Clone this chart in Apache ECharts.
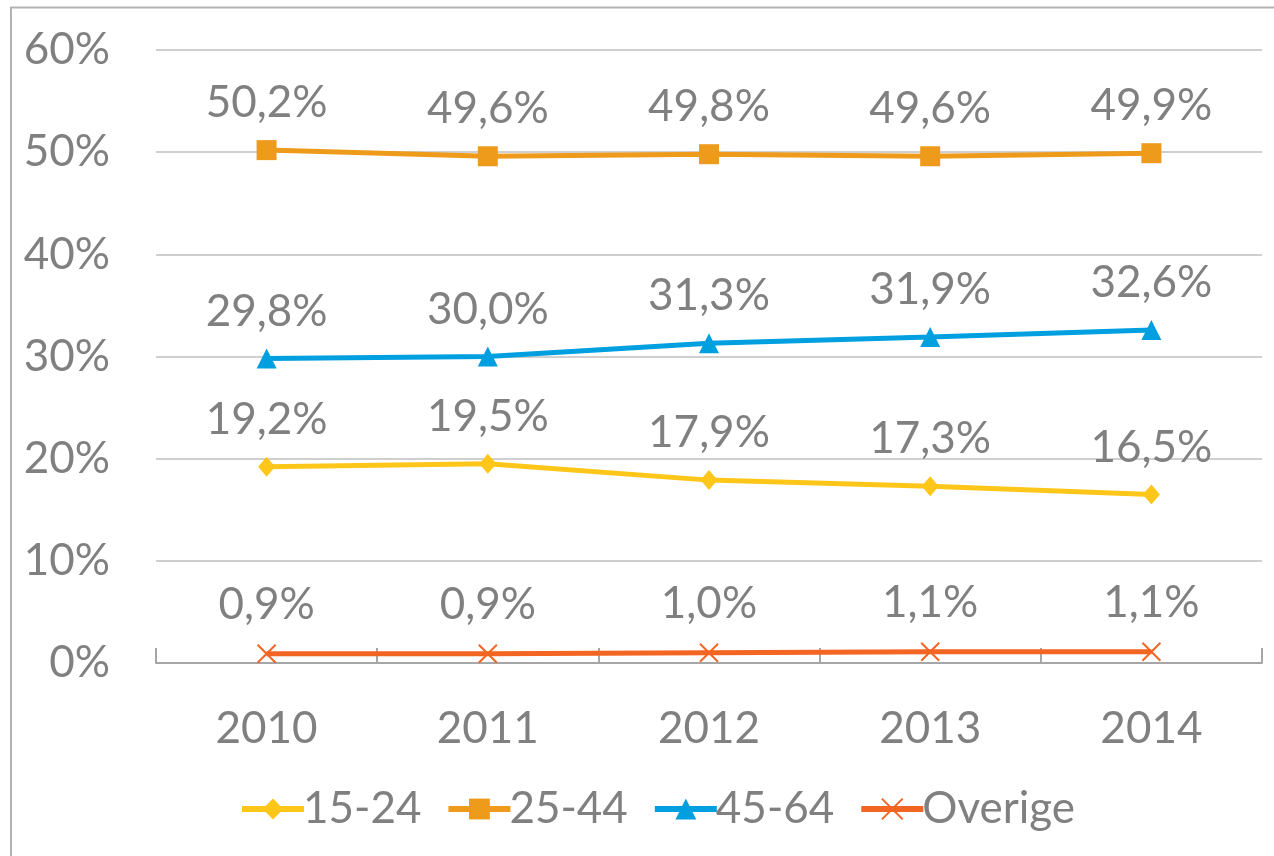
<!DOCTYPE html>
<html>
<head>
<meta charset="utf-8">
<script src="https://cdn.jsdelivr.net/npm/echarts@6/dist/echarts.min.js"></script>
<style>
html,body{margin:0;padding:0;background:#fff;}
#chart{width:1274px;height:856px;}
</style>
</head>
<body>
<div id="chart"></div>
<script>
const years = ['2010','2011','2012','2013','2014'];
const s1524 = [19.2, 19.5, 17.9, 17.3, 16.5];
const s2544 = [50.2, 49.6, 49.8, 49.6, 49.9];
const s4564 = [29.8, 30.0, 31.3, 31.9, 32.6];
const sOverige = [0.9, 0.9, 1.0, 1.1, 1.1];
const seriesNames = ['15-24', '25-44', '45-64', 'Overige'];
const colors = ['#FFC61A', '#EE9B1B', '#009FDF', '#F26522'];

const FONT = 'Lato, "Open Sans", sans-serif';
const GRAY = '#808080';

const fmt = v => v.toFixed(1).replace('.', ',') + '%';

function mk(name, data, color, symbol, size, extra) {
  return Object.assign({
    name: name,
    type: 'line',
    data: data,
    symbol: symbol,
    symbolSize: size,
    showAllSymbol: true,
    lineStyle: {color: color, width: 5},
    itemStyle: {color: color},
    label: {
      show: true,
      position: 'top',
      distance: 15,
      color: GRAY,
      fontFamily: FONT,
      fontSize: 44,
      formatter: p => fmt(p.value)
    },
    emphasis: {disabled: true},
    animation: false
  }, extra || {});
}

const chart = echarts.init(document.getElementById('chart'));
chart.setOption({
  animation: false,
  color: colors,
  graphic: [{
    type: 'rect',
    shape: {x: 11, y: 7.5, width: 1300, height: 900},
    style: {fill: 'none', stroke: '#b3b3b3', lineWidth: 2},
    silent: true
  }],
  grid: {left: 156, right: 12, top: 50, bottom: 193, containLabel: false},
  xAxis: {
    type: 'category',
    data: years,
    boundaryGap: true,
    axisLine: {show: true, lineStyle: {color: '#a6a6a6', width: 2}},
    axisTick: {show: true, inside: true, length: 15, lineStyle: {color: '#a6a6a6', width: 2}},
    axisLabel: {color: GRAY, fontFamily: FONT, fontSize: 44, margin: 44},
    splitLine: {show: false}
  },
  yAxis: {
    type: 'value',
    min: 0, max: 60, interval: 10,
    axisLine: {show: false},
    axisTick: {show: false},
    axisLabel: {color: GRAY, fontFamily: FONT, fontSize: 44, margin: 46, formatter: v => v + '%'},
    splitLine: {lineStyle: {color: '#bfbfbf', width: 1.5}}
  },
  legend: {
    bottom: 20,
    left: 234,
    itemWidth: 62,
    itemHeight: 26,
    itemGap: 24,
    lineStyle: {width: 6},
    textStyle: {color: GRAY, fontFamily: FONT, fontSize: 44, padding: [0,0,0,-6]},
    data: seriesNames
  },
  series: [
    mk(seriesNames[0], s1524, colors[0], 'diamond', [17, 20]),
    mk(seriesNames[1], s2544, colors[1], 'rect', 20),
    mk(seriesNames[2], s4564, colors[2], 'triangle', 20),
    mk(seriesNames[3], sOverige, colors[3], 'path://M0,0L10,10M10,0L0,10', 18, {
      itemStyle: {color: 'none', borderColor: colors[3], borderWidth: 2}
    })
  ]
});
</script>
</body>
</html>
